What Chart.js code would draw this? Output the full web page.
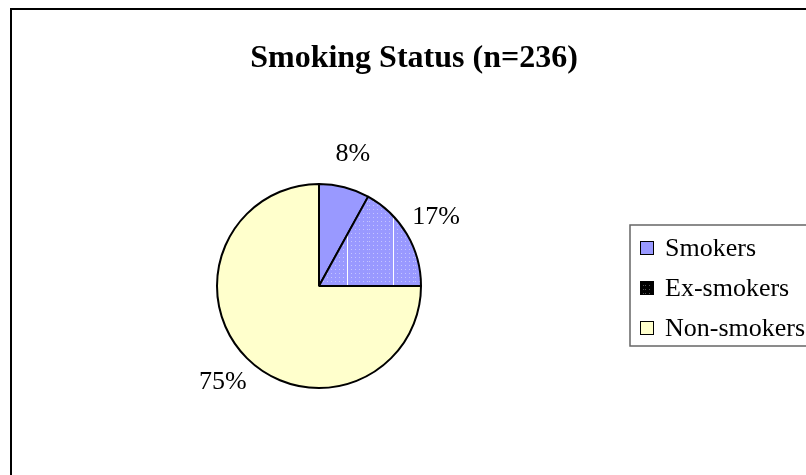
<!DOCTYPE html>
<html>
<head>
<meta charset="utf-8">
<script src="https://cdn.jsdelivr.net/npm/chart.js@4"></script>
<style>
  html, body { margin: 0; padding: 0; background: #fff; }
  #wrap { width: 806px; height: 475px; }
</style>
</head>
<body>
<div id="wrap"><canvas id="myChart" width="806" height="475"></canvas></div>
<script>
const title = "Smoking Status (n=236)";
const labels = ["Smokers", "Ex-smokers", "Non-smokers"];
const values = [8, 17, 75]; // percent

const FONT = "'Liberation Serif', 'Times New Roman', serif";

// pattern for the ex-smokers slice: blue with light dots and a white stripe
function makePattern(bg, dot, stripe) {
  const c = document.createElement("canvas");
  c.width = 46;
  c.height = 4;
  const g = c.getContext("2d");
  g.fillStyle = bg;
  g.fillRect(0, 0, 46, 4);
  g.fillStyle = dot;
  for (let x = 1; x < 46; x += 4) g.fillRect(x, 1, 1, 1);
  g.fillStyle = stripe;
  g.fillRect(25, 0, 1, 4);
  return g.createPattern(c, "repeat");
}

const ctx = document.getElementById("myChart");
const exPattern = makePattern("#9999ff", "#c4c4ff", "#ffffff");
const exLegend = makePattern("#000000", "#555555", "#ffffff");
const colors = ["#9999ff", exPattern, "#ffffcc"];
const legendColors = ["#9999ff", exLegend, "#ffffcc"];

const decor = {
  id: "decor",
  beforeDraw(chart) {
    const c = chart.ctx;
    c.save();
    c.fillStyle = "#fff";
    c.fillRect(0, 0, chart.width, chart.height);
    // outer frame (runs off right and bottom edges)
    c.strokeStyle = "#000";
    c.lineWidth = 2;
    c.strokeRect(11, 9, 900, 600);
    // title
    c.fillStyle = "#000";
    c.font = "bold 32px " + FONT;
    c.textAlign = "center";
    c.textBaseline = "alphabetic";
    c.fillText(title, 414, 67);
    c.restore();
  },
  afterDraw(chart) {
    const c = chart.ctx;
    const arcs = chart.getDatasetMeta(0).data;
    c.save();
    c.fillStyle = "#000";
    c.font = "26px " + FONT;
    c.textAlign = "center";
    c.textBaseline = "middle";
    arcs.forEach((a, i) => {
      const p = a.getProps(["x", "y", "startAngle", "endAngle", "outerRadius"], true);
      const mid = (p.startAngle + p.endAngle) / 2;
      const d = p.outerRadius + 34;
      c.fillText(values[i] + "%", p.x + Math.cos(mid) * d, p.y + Math.sin(mid) * d);
    });
    // legend
    c.strokeStyle = "#666";
    c.lineWidth = 1.5;
    c.fillStyle = "#fff";
    c.fillRect(630, 225, 200, 121);
    c.strokeRect(630, 225, 200, 121);
    c.font = "26px " + FONT;
    c.textAlign = "left";
    c.textBaseline = "middle";
    labels.forEach((lab, i) => {
      const y = 248 + i * 40;
      c.fillStyle = legendColors[i];
      c.fillRect(640, y - 7, 14, 14);
      c.strokeStyle = "#000";
      c.lineWidth = 1;
      c.strokeRect(640.5, y - 6.5, 13, 13);
      c.fillStyle = "#000";
      c.fillText(lab, 665, y + 1);
    });
    c.restore();
  }
};

new Chart(ctx, {
  type: "pie",
  data: {
    labels: labels,
    datasets: [
      {
        data: values,
        backgroundColor: colors,
        borderColor: "#000",
        borderWidth: 2,
        hoverOffset: 0,
        radius: 102,
      },
    ],
  },
  options: {
    responsive: false,
    animation: false,
    events: [],
    layout: {
      padding: { left: 217, right: 385, top: 184, bottom: 87 },
    },
    plugins: {
      legend: { display: false },
      title: { display: false },
      tooltip: { enabled: false },
    },
  },
  plugins: [decor],
});
</script>
</body>
</html>
